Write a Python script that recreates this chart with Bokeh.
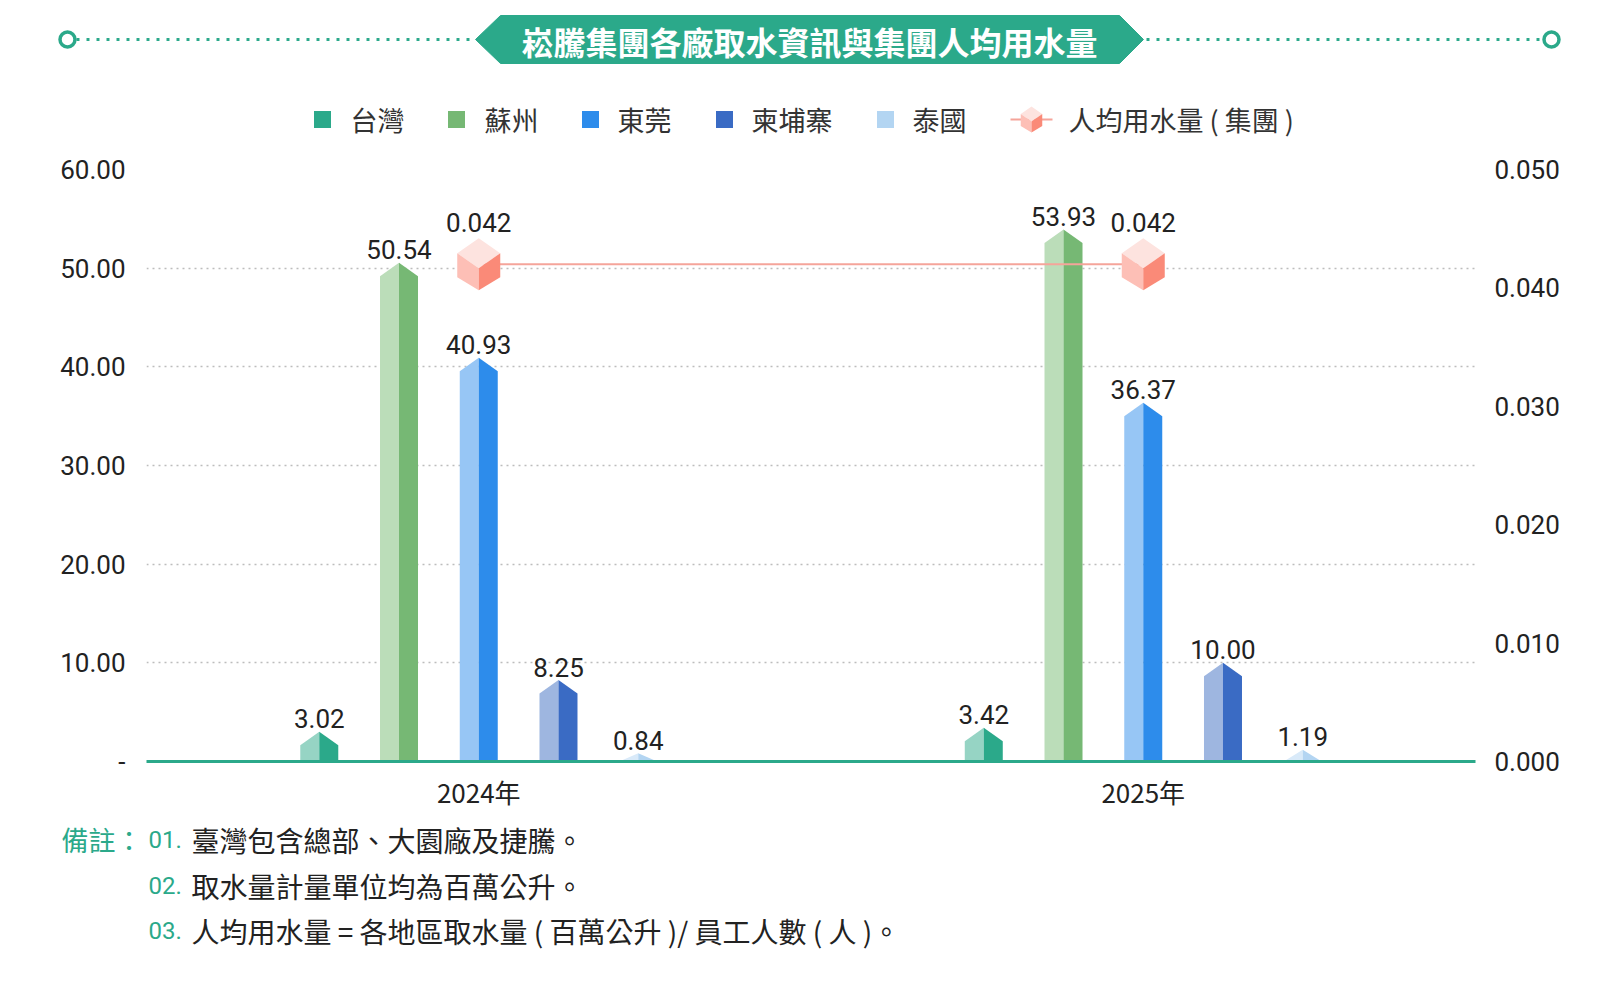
from bokeh.plotting import figure
from bokeh.models import Range1d, LinearAxis, FixedTicker
from bokeh.layouts import column
from bokeh.core.properties import value
from bokeh.embed import file_html
from bokeh.resources import INLINE

# ---------------- data ----------------
title = "崧騰集團各廠取水資訊與集團人均用水量"
years = ["2024年", "2025年"]
sites = ["台灣", "蘇州", "東莞", "柬埔寨", "泰國"]
taiwan = [3.02, 3.42]
suzhou = [50.54, 53.93]
dongguan = [40.93, 36.37]
cambodia = [8.25, 10.00]
thailand = [0.84, 1.19]
per_capita = [0.042, 0.042]
line_name = "人均用水量 ( 集團 )"
left_ticks = [0, 10, 20, 30, 40, 50, 60]
right_ticks = [0.0, 0.01, 0.02, 0.03, 0.04, 0.05]
note_head = "備註："
note_nums = ["01.", "02.", "03."]
notes = ["臺灣包含總部、大園廠及捷騰。",
         "取水量計量單位均為百萬公升。",
         "人均用水量 = 各地區取水量 ( 百萬公升 )/ 員工人數 ( 人 )。"]

series = [taiwan, suzhou, dongguan, cambodia, thailand]

# ---------------- style ----------------
TEAL = "#2BA98A"
dark = ["#2BA98A", "#76B874", "#2D8CEB", "#3A6BC4", "#B3D5F2"]
light = ["#96D4C4", "#BBDDB9", "#97C6F5", "#9EB6E0", "#D9EAF9"]
LINE_C = "#F5A49A"
CUBE_TOP, CUBE_LEFT, CUBE_RIGHT = "#FDE3DF", "#FDBFB6", "#FA8A78"
NUM = "Roboto"
CJK = "Noto Sans CJK TC"
NUM_FONT = value(NUM)
CJK_FONT = value(CJK)
TXT = "#222222"

W = 1584
CH_TOP, CH_BOT = 140, 815          # y of chart figure within the page content
F_L, F_R, F_T, F_B = 146, 1475, 169, 761   # plot frame
offsets = [-0.24, -0.12, 0.0, 0.12, 0.24]
CAT_PX = (F_R - F_L) / len(years)
HALF_W = 19 / CAT_PX
Y_MAX = 60
R_MAX = 0.05
PX_Y = Y_MAX / (F_B - F_T)
PX_YR = R_MAX / (F_B - F_T)
DROP = 13.5 * PX_Y


def cube(cx, cy, sx, sy, k=1.0):
    hw, t, u, c, lo = 21.5 * k, 26 * k, 11 * k, -4 * k, -13 * k
    T = (cx, cy + t * sy); L = (cx - hw * sx, cy + u * sy); R = (cx + hw * sx, cy + u * sy)
    C = (cx, cy + c * sy); LL = (cx - hw * sx, cy + lo * sy); RR = (cx + hw * sx, cy + lo * sy)
    B = (cx, cy - t * sy)
    faces = [[T, R, C, L], [L, C, B, LL], [C, R, RR, B]]
    return [[q[0] for q in f] for f in faces], [[q[1] for q in f] for f in faces]


def no_align(f):
    try:
        f.frame_align = False
    except Exception:
        pass


# ---------------- header figure ----------------
top = figure(width=W, height=CH_TOP, x_range=Range1d(0, W), y_range=Range1d(CH_TOP, 0),
             output_backend="svg", toolbar_location=None, min_border=0,
             x_axis_location=None, y_axis_location=None)
top.grid.visible = False
top.outline_line_color = None
no_align(top)

top.line([76, 474], [39, 39], line_color=TEAL, line_width=3, line_dash="3 7")
top.line([1146, 1542], [39, 39], line_color=TEAL, line_width=3, line_dash="3 7")
top.scatter([67, 1551], [39, 39], size=15, fill_color="white", line_color=TEAL, line_width=3.5)
top.patch([475, 500, 1119, 1143, 1119, 500], [39, 15, 15, 39, 63, 63], fill_color=TEAL, line_color=TEAL)
top.text(x=[809], y=[40], text=[title], text_align="center", text_baseline="middle",
         text_font=CJK_FONT, text_font_style="bold", text_font_size="32px", text_color="white")

# legend
sq_x = [322, 456, 590, 724, 885]
tx_x = [350, 484, 617, 751, 912]
LEG_Y = 119
top.scatter(sq_x, [LEG_Y] * len(sites), marker="square", size=17, fill_color=dark, line_color=None)
top.text(x=tx_x, y=[LEG_Y] * len(sites), text=sites, text_baseline="middle",
         text_font=CJK_FONT, text_font_size="27px", text_color="#333333")
top.line([1010, 1052], [LEG_Y, LEG_Y], line_color=LINE_C, line_width=2)
lx, ly = cube(1031, LEG_Y, 1, -1, 0.5)
top.patches(lx, ly, fill_color=[CUBE_TOP, CUBE_LEFT, CUBE_RIGHT], line_color=None)
top.text(x=[1068], y=[LEG_Y], text=[line_name], text_baseline="middle",
         text_font=CJK_FONT, text_font_size="27px", text_color="#333333")

# ---------------- chart figure ----------------
p = figure(width=W, height=CH_BOT - CH_TOP, x_range=Range1d(0, len(years)), y_range=Range1d(0, Y_MAX),
           output_backend="svg", toolbar_location=None,
           min_border_left=F_L, min_border_right=W - F_R,
           min_border_top=F_T - CH_TOP, min_border_bottom=CH_BOT - F_B)
p.outline_line_color = None
p.extra_y_ranges = {"right": Range1d(0, R_MAX)}
no_align(p)

p.xgrid.visible = False
p.ygrid.grid_line_color = "#BDBDBD"
p.ygrid.grid_line_dash = "2 4"
p.ygrid.grid_line_width = 1.5

xa = p.xaxis[0]
xa.ticker = FixedTicker(ticks=[i + 0.5 for i in range(len(years))])
xa.major_label_overrides = {i + 0.5: y for i, y in enumerate(years)}
xa.axis_line_color = TEAL
xa.axis_line_width = 3
xa.major_tick_line_color = None
xa.minor_tick_line_color = None
xa.major_label_text_font = CJK
xa.major_label_text_font_size = "26px"
xa.major_label_text_color = TXT
xa.major_label_standoff = 5

ya = p.yaxis[0]
ya.ticker = FixedTicker(ticks=left_ticks)
ya.major_label_overrides = {t: ("-" if t == 0 else f"{t:.2f}") for t in left_ticks}
ya.axis_line_color = None
ya.major_tick_line_color = None
ya.minor_tick_line_color = None
ya.major_label_text_font = NUM
ya.major_label_text_font_size = "26px"
ya.major_label_text_color = TXT
ya.major_label_standoff = 15

ra = LinearAxis(y_range_name="right", ticker=FixedTicker(ticks=right_ticks))
ra.major_label_overrides = {t: f"{t:.3f}" for t in right_ticks}
ra.axis_line_color = None
ra.major_tick_line_color = None
ra.minor_tick_line_color = None
ra.major_label_text_font = NUM
ra.major_label_text_font_size = "26px"
ra.major_label_text_color = TXT
ra.major_label_standoff = 13
p.add_layout(ra, "right")

# bars (two-tone prisms with pointed tops)
xs, ys, cols = [], [], []
lab_x, lab_y, lab_t = [], [], []
for si, vals in enumerate(series):
    for yi, v in enumerate(vals):
        c = yi + 0.5 + offsets[si]
        sh = max(v - DROP, 0)
        xs.append([c - HALF_W, c - HALF_W, c, c]); ys.append([0, sh, v, 0]); cols.append(light[si])
        xs.append([c, c, c + HALF_W, c + HALF_W]); ys.append([0, v, sh, 0]); cols.append(dark[si])
        lab_x.append(c); lab_y.append(v); lab_t.append(f"{v:.2f}")
p.patches(xs=xs, ys=ys, fill_color=cols, line_color=None)
p.text(x=lab_x, y=lab_y, text=lab_t, text_align="center", text_baseline="alphabetic", y_offset=-13,
       text_font=NUM_FONT, text_font_size="26px", text_color=TXT)

# per-capita line with cube markers
lx_c = [i + 0.5 for i in range(len(years))]
p.line(lx_c, per_capita, y_range_name="right", line_color=LINE_C, line_width=2)
cxs, cys, ccols = [], [], []
for x0, v in zip(lx_c, per_capita):
    fx, fy = cube(x0, v, 1 / CAT_PX, PX_YR)
    cxs += fx; cys += fy; ccols += [CUBE_TOP, CUBE_LEFT, CUBE_RIGHT]
p.patches(xs=cxs, ys=cys, fill_color=ccols, line_color=None, y_range_name="right")
p.text(x=lx_c, y=per_capita, text=[f"{v:.3f}" for v in per_capita], y_range_name="right",
       text_align="center", text_baseline="alphabetic", y_offset=-42,
       text_font=NUM_FONT, text_font_size="26px", text_color=TXT)

# ---------------- footnote figure ----------------
FOOT_H = 160
bot = figure(width=W, height=FOOT_H, x_range=Range1d(0, W), y_range=Range1d(CH_BOT + FOOT_H, CH_BOT),
             output_backend="svg", toolbar_location=None, min_border=0,
             x_axis_location=None, y_axis_location=None)
bot.grid.visible = False
bot.outline_line_color = None
no_align(bot)
note_y = [839, 885, 930]
bot.text(x=[61], y=[note_y[0]], text=[note_head], text_baseline="middle",
         text_font=CJK_FONT, text_font_size="27px", text_color=TEAL)
bot.text(x=[148] * 3, y=note_y, text=note_nums, text_baseline="middle",
         text_font=NUM_FONT, text_font_size="24px", text_color=TEAL)
bot.text(x=[191] * 3, y=note_y, text=notes, text_baseline="middle",
         text_font=CJK_FONT, text_font_size="28px", text_color=TXT)

layout = column(top, p, bot, spacing=0)
open("out.html", "w").write(file_html(layout, INLINE))
